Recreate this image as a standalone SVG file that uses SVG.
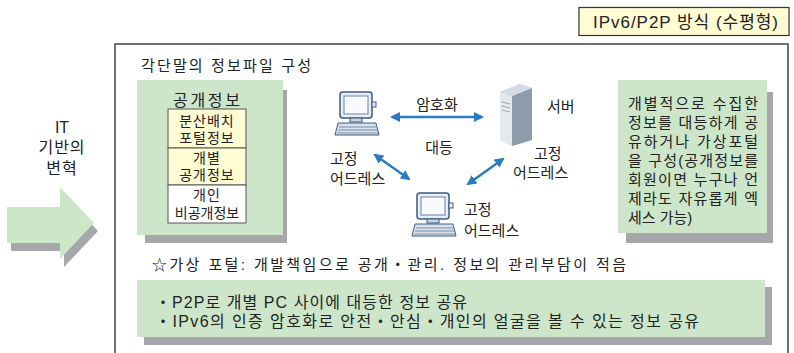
<svg xmlns="http://www.w3.org/2000/svg" width="794" height="353" viewBox="0 0 794 353">
  <defs>
    <style>
      text { font-family: "Liberation Sans", "Noto Sans CJK KR", sans-serif; fill: #222; }
      .t14 { font-size: 14px; }
      .t15 { font-size: 15px; }
      .t16 { font-size: 16px; }
      .mid { text-anchor: middle; }
      .green { fill: #cde6ca; }
      .shadow { fill: #a7a7ab; }
      .cell { stroke: #555; stroke-width: 1; }
      .link { stroke: #2b7bc4; stroke-width: 2.5; fill: none; marker-start: url(#ah); marker-end: url(#ah); }
    </style>
    <marker id="ah" viewBox="0 0 10 10" refX="8" refY="5" markerWidth="4" markerHeight="4" orient="auto-start-reverse">
      <path d="M0,0 L10,5 L0,10 z" fill="#2b7bc4"/>
    </marker>
    <g id="pc">
      <rect x="4" y="0" width="32" height="26" rx="3" fill="#e8eef5" stroke="#3c5a80" stroke-width="1.5"/>
      <rect x="8" y="4" width="24" height="18" fill="#f7f9fb" stroke="#6b84a5" stroke-width="1"/>
      <rect x="36" y="10" width="4" height="5" fill="#e8eef5" stroke="#3c5a80" stroke-width="1"/>
      <rect x="14" y="26" width="12" height="4" fill="#c9d3df" stroke="#3c5a80" stroke-width="1"/>
      <path d="M2,31 L40,31 L43,43 L-1,43 z" fill="#d9e0ea" stroke="#3c5a80" stroke-width="1"/>
      <path d="M3,35 L40,35 M2,38 L41,38 M1,41 L42,41" stroke="#7d90ab" stroke-width="1"/>
    </g>
  </defs>

  <!-- heading tag -->
  <g id="title">
    <rect x="579" y="7.5" width="210" height="28" fill="#fffbd2" stroke="#333" stroke-width="1.2"/>
    <text x="593" y="28" style="font-size:17px" textLength="185" lengthAdjust="spacing">IPv6/P2P 방식 (수평형)</text>
  </g>

  <!-- left transition arrow -->
  <g id="shift">
    <text x="62" y="133" class="mid t16">IT</text>
    <text x="62" y="153" class="mid t16" style="letter-spacing:1px">기반의</text>
    <text x="62" y="174" class="mid t16" style="letter-spacing:1px">변혁</text>
    <path d="M11,215 L64,215 L64,195 L98,231 L64,267 L64,251 L11,251 z" class="shadow"/>
    <path d="M7,207 L60,207 L60,187 L94,223 L60,259 L60,243 L7,243 z" class="green"/>
  </g>

  <!-- main frame -->
  <rect x="115" y="44" width="673" height="320" fill="#fff" stroke="#444" stroke-width="1.5"/>
  <text x="141" y="71" class="t15" fill="#333" textLength="170" lengthAdjust="spacing">각단말의 정보파일 구성</text>

  <!-- public information stack -->
  <g id="info-stack">
    <rect x="145" y="90" width="142" height="153" class="shadow"/>
    <rect x="137" y="80" width="146" height="155" class="green"/>
    <text x="173" y="106" class="t16" textLength="67" lengthAdjust="spacing">공개정보</text>
    <rect x="168" y="109" width="78" height="39" fill="#fffbd2" class="cell"/>
    <rect x="168" y="148" width="78" height="37" fill="#fffbd2" class="cell"/>
    <rect x="168" y="185" width="78" height="38" fill="#fff" class="cell"/>
    <text x="207" y="126" class="mid t14" style="letter-spacing:1px">분산배치</text>
    <text x="207" y="143" class="mid t14" style="letter-spacing:1px">포털정보</text>
    <text x="207" y="163" class="mid t14" style="letter-spacing:1px">개별</text>
    <text x="207" y="180" class="mid t14" style="letter-spacing:1px">공개정보</text>
    <text x="207" y="200" class="mid t14" style="letter-spacing:1px">개인</text>
    <text x="207" y="218" class="mid t14">비공개정보</text>
  </g>

  <!-- connectors -->
  <g id="links">
    <line x1="392" y1="117" x2="482" y2="117" class="link"/>
    <line x1="375" y1="155" x2="409" y2="179" class="link"/>
    <line x1="468" y1="184" x2="503" y2="159" class="link"/>
  </g>

  <g id="pc-left">
    <use href="#pc" x="336" y="92"/>
    <text x="330" y="164" class="t15">고정</text>
    <text x="330" y="184" class="t15">어드레스</text>
  </g>

  <g id="server">
    <path d="M500,92 L520,84 L532,88 L532,140 L512,146 L500,140 z" fill="#c3ccd6"/>
    <path d="M500,92 L512,96 L512,146 L500,140 z" fill="#e4e9ee"/>
    <path d="M512,96 L532,88 L532,140 L512,146 z" fill="#8e9bab"/>
    <path d="M500,92 L520,84 L532,88 L512,96 z" fill="#d4dbe3"/>
    <path d="M502,102 L510,104 M502,106 L510,108 M502,110 L510,112" stroke="#9aa6b3" stroke-width="1"/>
    <text x="547" y="112" class="t15">서버</text>
    <text x="534" y="159" class="t15">고정</text>
    <text x="513" y="178" class="t15">어드레스</text>
  </g>

  <g id="pc-bottom">
    <use href="#pc" x="413" y="193"/>
    <text x="464" y="215" class="t15">고정</text>
    <text x="464" y="236" class="t15">어드레스</text>
  </g>

  <text x="437" y="110" class="mid t15">암호화</text>
  <text x="439" y="153" class="mid t15">대등</text>

  <!-- description note -->
  <g id="note">
    <rect x="626" y="92" width="147" height="151" class="shadow"/>
    <rect x="618" y="80" width="149" height="153" class="green"/>
    <text x="628" y="109" class="t15" textLength="130" lengthAdjust="spacing">개별적으로  수집한</text>
    <text x="628" y="128" class="t15" textLength="130" lengthAdjust="spacing">정보를 대등하게 공</text>
    <text x="628" y="147" class="t15" textLength="130" lengthAdjust="spacing">유하거나  가상포털</text>
    <text x="628" y="166" class="t15" textLength="130" lengthAdjust="spacing">을 구성(공개정보를</text>
    <text x="628" y="185" class="t15" textLength="130" lengthAdjust="spacing">회원이면 누구나 언</text>
    <text x="628" y="204" class="t15" textLength="130" lengthAdjust="spacing">제라도 자유롭게 엑</text>
    <text x="628" y="223" class="t15">세스 가능)</text>
  </g>

  <text x="152" y="270" class="t15" textLength="474" lengthAdjust="spacing">☆가상 포털: 개발책임으로 공개・관리. 정보의 관리부담이 적음</text>

  <!-- summary -->
  <g id="summary">
    <rect x="144" y="287" width="628" height="58" class="shadow"/>
    <rect x="137" y="280" width="628" height="57" class="green"/>
    <text x="155" y="308" class="t16" textLength="312" lengthAdjust="spacing">・P2P로 개별 PC 사이에 대등한 정보 공유</text>
    <text x="155" y="327" class="t16" textLength="544" lengthAdjust="spacing">・IPv6의 인증 암호화로 안전・안심・개인의 얼굴을 볼 수 있는 정보 공유</text>
  </g>
</svg>
